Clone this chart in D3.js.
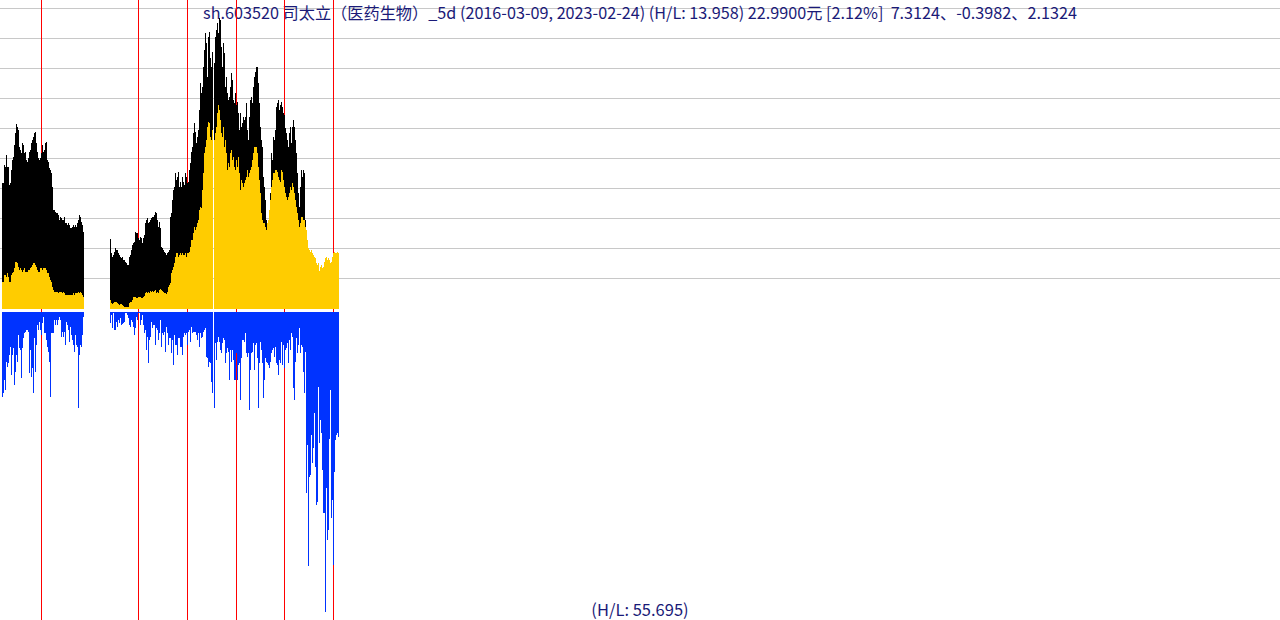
<!DOCTYPE html>
<html><head><meta charset="utf-8">
<script src="https://cdn.jsdelivr.net/npm/d3@7/dist/d3.min.js"></script>
<style>html,body{margin:0;padding:0;background:#fff;overflow:hidden}</style>
</head><body><svg id="c" width="1280" height="620"></svg>
<script>
const titleText = "sh.603520 司太立（医药生物）_5d (2016-03-09, 2023-02-24) (H/L: 13.958) 22.9900元 [2.12%]  7.3124、-0.3982、2.1324";
const footerText = "(H/L: 55.695)";

// upper black series (one value per 5-day bar, null = no data)
const blackSeries = [
50.3,50.3,57.6,56.9,61.6,56.9,56.9,49.6,50.3,55.6,
59.6,60.9,65.6,70.3,74.0,72.9,71.6,64.9,63.6,62.3,
66.3,65.6,62.3,62.9,59.6,58.9,60.3,62.9,63.6,66.3,
67.6,68.9,70.3,70.9,66.3,62.9,60.3,59.6,60.3,62.3,
65.6,62.9,63.6,66.3,66.9,59.6,58.9,56.3,55.6,54.3,
48.9,39.6,39.6,38.9,38.3,38.3,37.6,35.6,36.9,36.3,
35.6,35.6,36.9,34.3,34.3,33.6,34.3,33.6,32.3,32.3,
32.9,33.6,32.9,33.6,32.9,34.3,35.6,37.6,36.9,34.9,
33.6,30.9,
null,null,null,null,null,null,null,null,null,null,
null,null,null,null,null,null,null,null,null,null,
null,null,null,null,null,null,
27.9,22.3,20.9,21.6,22.9,24.3,23.6,23.6,22.3,21.6,
20.9,20.3,20.9,19.6,19.6,18.9,18.3,17.6,17.6,20.9,
21.6,23.6,25.6,26.3,26.9,30.9,30.3,30.3,28.3,27.6,
28.9,28.3,26.3,28.3,29.6,34.3,35.6,36.3,34.3,34.9,
35.6,36.3,36.9,36.9,37.6,38.9,38.3,35.6,32.9,34.9,
32.3,24.9,24.3,23.6,22.9,22.3,21.6,22.3,22.9,23.6,
36.9,38.3,43.6,47.6,48.9,54.3,51.6,52.9,54.9,48.9,
50.9,48.9,52.9,50.9,49.6,54.3,52.9,50.3,50.9,55.6,
58.3,62.9,64.9,70.3,74.3,70.9,66.3,68.9,71.6,79.6,
90.3,86.3,88.9,96.9,103.6,110.3,106.3,92.9,108.9,110.9,
100.3,96.9,102.9,null,98.3,108.9,111.6,114.3,110.3,116.3,
115.6,104.9,96.9,106.3,102.3,88.9,92.9,86.3,83.6,84.9,
88.9,94.3,91.6,83.6,82.3,86.3,81.6,82.9,78.3,71.6,
78.3,72.9,74.3,76.9,75.6,76.9,82.3,71.6,67.6,76.9,
83.6,84.9,82.3,88.9,92.9,94.9,96.9,96.9,90.3,82.3,
72.9,67.6,64.9,52.9,48.9,43.6,35.6,34.3,31.6,36.9,
46.3,62.3,59.6,68.9,67.6,71.6,80.9,82.3,83.6,79.6,
81.6,82.9,80.9,78.3,77.6,72.3,70.3,67.6,64.9,70.3,
72.9,66.3,72.9,75.6,72.9,67.6,62.3,54.3,46.3,40.9,
48.9,55.6,52.9,55.6,54.3,35.6,23.6,
27.6,24.3,23.6,22.9,23.6,22.3,21.6,20.9,20.3,18.3,
17.6,18.3,15.3,16.9,17.6,16.3,16.9,18.9,20.3,20.9,
19.6,20.3,19.6,18.3,18.9,20.9,22.3,22.9,22.3,22.3,
22.9,22.3
];

// upper yellow series (price)
const yellowSeries = [
10.9,10.9,13.6,13.6,12.9,14.3,12.9,10.9,10.9,13.6,
14.3,14.9,16.3,18.9,18.9,18.3,16.9,15.6,16.3,15.6,
14.9,15.6,16.3,14.9,14.9,14.9,15.6,15.6,16.3,16.9,
17.6,18.3,18.3,17.6,16.9,15.6,14.9,14.9,16.3,16.3,
15.6,16.3,16.3,16.3,15.6,14.3,14.3,12.9,11.6,10.9,
8.9,7.6,6.9,6.9,6.9,6.9,6.3,6.9,6.9,6.9,
6.3,6.9,6.3,5.6,5.6,5.6,5.6,5.6,5.6,5.6,
5.6,6.3,5.6,6.3,6.3,6.3,6.9,6.3,6.9,6.3,
5.6,4.9,
null,null,null,null,null,null,null,null,null,null,
null,null,null,null,null,null,null,null,null,null,
null,null,null,null,null,null,
3.6,2.3,2.0,2.3,2.9,2.9,2.9,2.5,2.0,1.6,
2.0,2.0,1.6,1.2,0.9,0.9,0.7,0.9,0.9,2.3,
2.9,2.9,3.6,4.9,4.9,4.9,4.3,4.3,4.9,4.7,
4.9,4.3,4.3,4.9,5.2,6.3,6.9,6.5,6.9,6.5,
7.3,6.9,7.3,6.9,7.3,7.6,6.5,6.9,6.3,7.6,
7.9,7.6,7.3,6.9,6.5,6.3,6.0,6.9,8.9,9.6,
10.3,14.3,15.6,16.9,18.3,20.9,22.3,22.3,20.9,21.6,
22.3,21.6,22.3,21.6,21.6,22.3,20.9,22.3,22.3,22.9,
24.9,27.6,27.6,30.3,32.9,31.6,32.9,34.3,35.6,39.6,
40.9,40.3,47.6,54.3,62.3,64.9,67.6,72.9,74.9,74.3,
68.9,67.6,71.6,null,67.6,70.3,72.9,78.3,81.6,79.6,
75.6,70.3,68.9,72.9,64.9,67.6,62.3,55.6,58.3,56.9,
62.3,63.6,59.6,60.9,56.9,55.6,59.6,56.9,60.9,54.3,
47.6,51.6,50.3,48.9,50.3,51.6,52.9,55.6,52.9,54.3,
55.6,56.9,59.6,62.3,64.9,64.9,64.9,62.3,56.9,51.6,
46.3,38.3,35.6,34.3,34.3,32.9,31.6,34.3,35.6,39.6,
43.6,48.9,51.6,54.3,54.3,55.6,55.6,54.9,52.9,51.6,
50.9,55.6,54.9,51.6,48.9,46.3,44.9,43.6,44.9,46.3,
48.9,47.6,50.3,48.9,46.3,43.6,40.9,38.3,35.6,32.9,
34.3,36.9,36.9,35.6,35.6,32.9,31.6,27.6,24.3,23.6,
22.9,23.6,22.3,21.6,20.9,20.3,18.3,17.6,18.3,15.3,
16.9,17.6,16.3,16.9,18.9,20.3,20.9,19.6,20.3,19.6,
18.3,18.9,20.9,22.3,22.9,22.3,22.3,22.9,22.3
];

// lower blue series (drawn downward)
const blueSeries = [
28.2,27.1,22.7,26.0,16.6,18.2,17.1,14.3,11.6,21.0,
14.3,12.1,24.3,19.9,14.3,16.6,7.7,12.1,12.7,22.1,
12.1,8.8,7.1,6.6,6.0,6.0,6.6,20.4,12.7,21.6,
18.8,27.1,8.8,19.9,11.0,4.3,6.0,3.2,6.0,7.7,
3.8,1.6,7.1,7.1,9.3,11.6,13.2,16.6,28.2,7.1,
7.1,7.1,2.7,4.3,2.7,4.3,2.7,1.6,2.7,8.2,
6.6,8.2,6.6,11.0,3.2,4.3,6.0,9.9,4.9,7.7,
9.3,11.0,13.2,7.7,11.0,11.6,32.1,14.3,11.0,11.6,
7.7,1.6,
null,null,null,null,null,null,null,null,null,null,
null,null,null,null,null,null,null,null,null,null,
null,null,null,null,null,null,
3.8,1.0,5.4,0.4,6.0,6.0,3.2,4.9,2.7,3.8,
2.1,4.3,4.0,3.8,3.2,0.4,0.4,1.0,2.1,4.3,
4.9,2.7,3.2,4.9,7.7,5.4,1.6,2.7,0.4,0.4,
4.3,2.7,1.0,4.3,7.1,6.0,12.7,8.2,17.1,9.3,
8.2,3.2,5.4,4.3,4.3,11.0,5.4,6.0,9.3,7.1,
2.7,11.6,7.1,7.7,6.6,13.2,4.9,7.1,11.0,8.8,
8.8,13.8,9.3,17.7,7.7,11.0,11.0,14.3,8.8,8.8,
11.6,11.6,14.3,8.2,7.1,7.7,7.1,11.0,6.6,6.0,
9.9,4.9,7.1,6.6,6.6,6.6,7.7,9.3,7.1,11.6,
7.1,8.8,8.2,6.6,6.0,5.4,14.9,15.4,18.2,16.6,
17.1,23.2,27.1,null,32.1,10.4,16.0,9.9,8.2,9.9,
12.7,13.8,10.4,8.8,9.3,17.1,13.8,12.1,13.2,22.7,
12.7,16.6,12.7,16.0,22.7,22.7,13.8,22.7,17.7,17.1,
29.3,15.4,9.3,9.3,9.9,7.1,13.8,14.9,13.8,32.7,
19.3,13.8,13.2,10.4,19.3,11.0,10.4,15.4,32.1,17.1,
9.9,12.7,17.1,28.8,22.7,15.4,16.6,17.1,17.7,18.8,
16.6,13.8,12.7,12.1,14.9,11.6,17.1,17.7,21.0,16.0,
17.1,9.9,17.7,11.0,18.8,12.7,12.1,10.4,17.1,9.3,
12.7,7.1,8.2,25.4,29.3,16.6,8.8,13.8,11.0,5.4,
13.8,11.0,11.6,19.9,27.1,13.2,
60.3,44.3,84.7,55.0,54.3,41.0,50.3,45.3,33.7,51.7,
64.3,63.3,25.0,43.7,36.0,40.3,52.7,67.0,67.0,100.0,
58.7,76.0,72.7,42.3,26.0,68.7,62.7,84.3,53.3,42.7,
41.0,40.3,41.7
];

// year-start markers (bar index of first bar of each year)
const yearLabels = ["2017","2019","2020","2021","2022","2023"];
const yearIndex = [39, 136, 185, 234, 282, 331];

// horizontal grid values on the upper scale
const gridTicks = [12, 24, 36, 48, 60, 72, 84, 96, 108, 120];

const W = 1280, H = 620;
const svg = d3.select("#c");
const N = yellowSeries.length;

const x = d3.scaleBand().domain(d3.range(N)).range([2, 2 + N]).padding(0);
const yUp = d3.scaleLinear().domain([0, 120]).range([309, 9]);
const yDown = d3.scaleLinear().domain([0, 100]).range([312, 612]);

// grid
svg.append("g").selectAll("line").data(gridTicks).join("line")
  .attr("x1", 0).attr("x2", W)
  .attr("y1", d => yUp(d) - 0.5).attr("y2", d => yUp(d) - 0.5)
  .attr("stroke", "#c8c8c8").attr("stroke-width", 1);

// title
svg.append("text").attr("x", 640).attr("y", 19)
  .attr("text-anchor", "middle")
  .style("white-space", "pre")
  .attr("font-family", "'Noto Sans CJK SC', 'Noto Sans', sans-serif")
  .attr("font-size", 16.2).attr("fill", "#1a1a78")
  .text(titleText);

svg.append("text").attr("x", 640).attr("y", 616)
  .attr("text-anchor", "middle")
  .attr("font-family", "'Noto Sans CJK SC', 'Noto Sans', sans-serif")
  .attr("font-size", 16.5).attr("fill", "#1a1a78")
  .text(footerText);

// year marker lines
svg.append("g").selectAll("line").data(yearIndex).join("line")
  .attr("x1", d => x(d) + 0.5).attr("x2", d => x(d) + 0.5)
  .attr("y1", 0).attr("y2", H)
  .attr("stroke", "#ff0000").attr("stroke-width", 1);

const idx = d3.range(N);
const bars = svg.append("g").attr("shape-rendering", "crispEdges");

bars.selectAll("rect.k").data(idx.filter(i => blackSeries[i] != null)).join("rect")
  .attr("class", "k")
  .attr("x", i => x(i)).attr("width", x.bandwidth())
  .attr("y", i => yUp(blackSeries[i])).attr("height", i => yUp(0) - yUp(blackSeries[i]))
  .attr("fill", "#000000");

bars.selectAll("rect.y").data(idx.filter(i => yellowSeries[i] != null)).join("rect")
  .attr("class", "y")
  .attr("x", i => x(i)).attr("width", x.bandwidth())
  .attr("y", i => yUp(yellowSeries[i])).attr("height", i => yUp(0) - yUp(yellowSeries[i]))
  .attr("fill", "#ffcc00");

bars.selectAll("rect.b").data(idx.filter(i => blueSeries[i] != null)).join("rect")
  .attr("class", "b")
  .attr("x", i => x(i)).attr("width", x.bandwidth())
  .attr("y", yDown(0)).attr("height", i => yDown(blueSeries[i]) - yDown(0))
  .attr("fill", "#0033ff");
</script></body></html>
